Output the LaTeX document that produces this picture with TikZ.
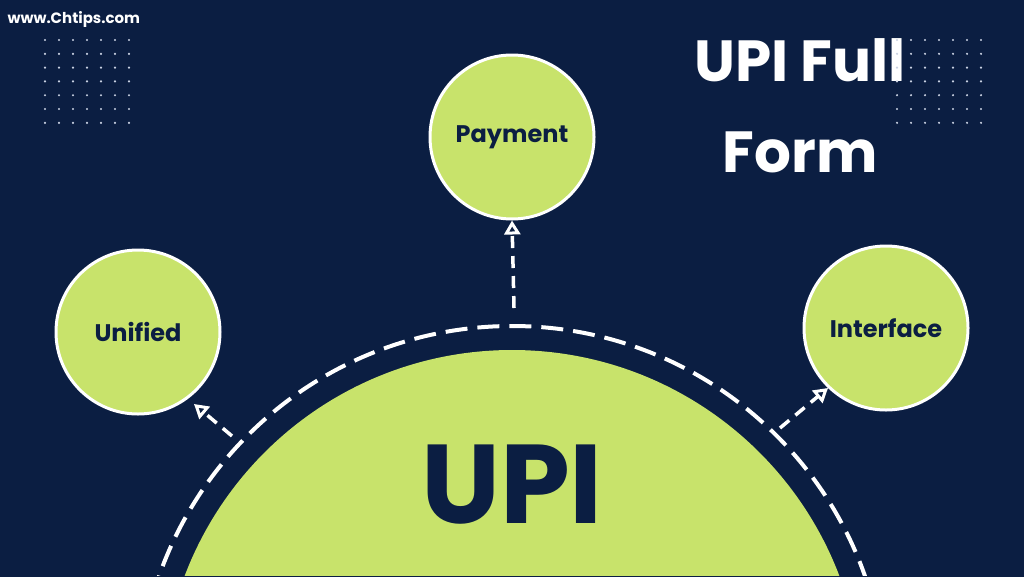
\documentclass[tikz,border=0pt]{standalone}
\usepackage{fontspec}
\setmainfont{Poppins}
\usetikzlibrary{arrows.meta}
\definecolor{navy}{HTML}{0B1E42}
\definecolor{lime}{HTML}{C8E36B}
\definecolor{dotc}{HTML}{C9D1E2}
\tikzset{
  ring/.style={circle,draw=white,line width=3pt,fill=lime,minimum size=164pt,inner sep=0pt,text=navy,font=\bfseries\fontsize{24}{28}\selectfont},
  darr/.style={white,line width=3.5pt,dash pattern=on 12pt off 8pt,-{Stealth[length=14pt,width=16pt,inset=0pt,open,line width=3pt]}}
}
\begin{document}
\begin{tikzpicture}[x=1pt,y=-1pt]
\fill[navy] (0,0) rectangle (1024,576);
\useasboundingbox (0,0) rectangle (1024,576);
\fill[lime] (512,700) circle (350);
\draw[white,line width=4pt,dash pattern=on 22pt off 10pt] (512,700) circle (374);
\fill[navy] (0,576) rectangle (1024,700);
\node[ring] (pay) at (512,137) {Payment};
\node[ring] (uni) at (138,332) {Unified};
\node[ring] (int) at (886,328) {Interface};
\coordinate (pa) at (514,308);
\coordinate (ua) at (232,436);
\coordinate (ia) at (780,428);
\draw[darr] (pa) -- (pay.south);
\draw[darr] (ua) -- (194,404);
\draw[darr] (ia) -- (828,388);
\node[text=navy,font=\bfseries\fontsize{112}{112}\selectfont] (upi) at (512,485) {UPI};
\node[text=white,font=\bfseries\fontsize{58}{60}\selectfont] (t1) at (800,60) {UPI Full};
\node[text=white,font=\bfseries\fontsize{58}{60}\selectfont] (t2) at (800,152) {Form};
\node[text=white,font=\bfseries\fontsize{15}{16}\selectfont,anchor=west] (web) at (4,19) {www.Chtips.com};
\foreach \i in {0,...,6}{\foreach \j in {0,...,6}{
  \fill[dotc] (45+14*\i,40+13.8*\j) circle (1.2);
  \fill[dotc] (897+14*\i,40+13.8*\j) circle (1.2);
}}
\end{tikzpicture}
\end{document}
